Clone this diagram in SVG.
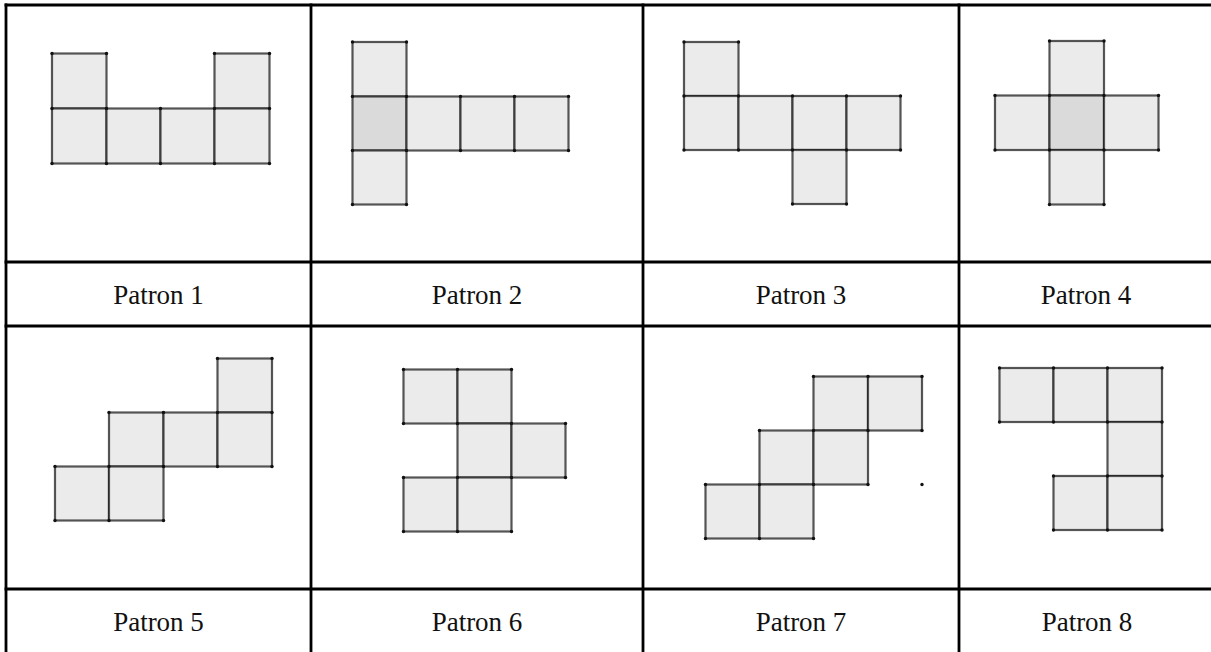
<svg xmlns="http://www.w3.org/2000/svg" xmlns:xlink="http://www.w3.org/1999/xlink" width="1211" height="652" viewBox="0 0 1211 652">
<style>
.sq{fill:#ebebeb;stroke:#1e1e1e;stroke-opacity:0.75;stroke-width:2.2}
.dk{fill:#dadada}
.grid{stroke:#000;stroke-width:2.8;fill:none}
.lbl{font-family:"Liberation Serif","Times New Roman",serif;font-size:27px;fill:#111;text-anchor:middle}
</style>
<defs><circle id="d" r="1.7" fill="#111"/></defs>
<rect width="1211" height="652" fill="#fff"/>
<g id="table" class="grid">
<line x1="4.6" y1="5" x2="1211" y2="5"/>
<line x1="4.6" y1="262" x2="1211" y2="262"/>
<line x1="4.6" y1="326" x2="1211" y2="326"/>
<line x1="4.6" y1="589" x2="1211" y2="589"/>
<line x1="6" y1="3.6" x2="6" y2="652"/>
<line x1="311" y1="3.6" x2="311" y2="652"/>
<line x1="643" y1="3.6" x2="643" y2="652"/>
<line x1="959" y1="3.6" x2="959" y2="652"/>
</g>
<g id="patron1">
<rect class="sq" x="52" y="53.5" width="54.5" height="55"/>
<rect class="sq" x="214.5" y="53.5" width="55" height="55"/>
<rect class="sq" x="52" y="108.5" width="54.5" height="55"/>
<rect class="sq" x="106.5" y="108.5" width="54" height="55"/>
<rect class="sq" x="160.5" y="108.5" width="54" height="55"/>
<rect class="sq" x="214.5" y="108.5" width="55" height="55"/>
<use xlink:href="#d" x="52" y="53.5"/><use xlink:href="#d" x="106.5" y="53.5"/><use xlink:href="#d" x="214.5" y="53.5"/><use xlink:href="#d" x="269.5" y="53.5"/>
<use xlink:href="#d" x="52" y="108.5"/><use xlink:href="#d" x="106.5" y="108.5"/><use xlink:href="#d" x="160.5" y="108.5"/><use xlink:href="#d" x="214.5" y="108.5"/><use xlink:href="#d" x="269.5" y="108.5"/>
<use xlink:href="#d" x="52" y="163.5"/><use xlink:href="#d" x="106.5" y="163.5"/><use xlink:href="#d" x="160.5" y="163.5"/><use xlink:href="#d" x="214.5" y="163.5"/><use xlink:href="#d" x="269.5" y="163.5"/>
<text class="lbl" x="158.5" y="304">Patron 1</text>
</g>
<g id="patron2">
<rect class="sq" x="352.5" y="42" width="54" height="54.5"/>
<rect class="sq dk" x="352.5" y="96.5" width="54" height="54"/>
<rect class="sq" x="406.5" y="96.5" width="54" height="54"/>
<rect class="sq" x="460.5" y="96.5" width="54" height="54"/>
<rect class="sq" x="514.5" y="96.5" width="54" height="54"/>
<rect class="sq" x="352.5" y="150.5" width="54" height="54"/>
<use xlink:href="#d" x="352.5" y="42"/><use xlink:href="#d" x="406.5" y="42"/>
<use xlink:href="#d" x="352.5" y="96.5"/><use xlink:href="#d" x="406.5" y="96.5"/><use xlink:href="#d" x="460.5" y="96.5"/><use xlink:href="#d" x="514.5" y="96.5"/><use xlink:href="#d" x="568.5" y="96.5"/>
<use xlink:href="#d" x="352.5" y="150.5"/><use xlink:href="#d" x="406.5" y="150.5"/><use xlink:href="#d" x="460.5" y="150.5"/><use xlink:href="#d" x="514.5" y="150.5"/><use xlink:href="#d" x="568.5" y="150.5"/>
<use xlink:href="#d" x="352.5" y="204.5"/><use xlink:href="#d" x="406.5" y="204.5"/>
<text class="lbl" x="477" y="304">Patron 2</text>
</g>
<g id="patron3">
<rect class="sq" x="684" y="42" width="54.5" height="54"/>
<rect class="sq" x="684" y="96" width="54.5" height="54"/>
<rect class="sq" x="738.5" y="96" width="54" height="54"/>
<rect class="sq" x="792.5" y="96" width="54" height="54"/>
<rect class="sq" x="846.5" y="96" width="54" height="54"/>
<rect class="sq" x="792.5" y="150" width="54" height="54"/>
<use xlink:href="#d" x="684" y="42"/><use xlink:href="#d" x="738.5" y="42"/>
<use xlink:href="#d" x="684" y="96"/><use xlink:href="#d" x="738.5" y="96"/><use xlink:href="#d" x="792.5" y="96"/><use xlink:href="#d" x="846.5" y="96"/><use xlink:href="#d" x="900.5" y="96"/>
<use xlink:href="#d" x="684" y="150"/><use xlink:href="#d" x="738.5" y="150"/><use xlink:href="#d" x="792.5" y="150"/><use xlink:href="#d" x="846.5" y="150"/><use xlink:href="#d" x="900.5" y="150"/>
<use xlink:href="#d" x="792.5" y="204"/><use xlink:href="#d" x="846.5" y="204"/>
<text class="lbl" x="801" y="304">Patron 3</text>
</g>
<g id="patron4">
<rect class="sq" x="1049.5" y="41" width="54.5" height="54.5"/>
<rect class="sq" x="995" y="95.5" width="54.5" height="54.5"/>
<rect class="sq dk" x="1049.5" y="95.5" width="54.5" height="54.5"/>
<rect class="sq" x="1104" y="95.5" width="54.5" height="54.5"/>
<rect class="sq" x="1049.5" y="150" width="54.5" height="54.5"/>
<use xlink:href="#d" x="1049.5" y="41"/><use xlink:href="#d" x="1104" y="41"/>
<use xlink:href="#d" x="995" y="95.5"/><use xlink:href="#d" x="1049.5" y="95.5"/><use xlink:href="#d" x="1104" y="95.5"/><use xlink:href="#d" x="1158.5" y="95.5"/>
<use xlink:href="#d" x="995" y="150"/><use xlink:href="#d" x="1049.5" y="150"/><use xlink:href="#d" x="1104" y="150"/><use xlink:href="#d" x="1158.5" y="150"/>
<use xlink:href="#d" x="1049.5" y="204.5"/><use xlink:href="#d" x="1104" y="204.5"/>
<text class="lbl" x="1086" y="304">Patron 4</text>
</g>
<g id="patron5">
<rect class="sq" x="217.5" y="358.5" width="54.5" height="54"/>
<rect class="sq" x="109" y="412.5" width="54.5" height="54"/>
<rect class="sq" x="163.5" y="412.5" width="54" height="54"/>
<rect class="sq" x="217.5" y="412.5" width="54.5" height="54"/>
<rect class="sq" x="55" y="466.5" width="54" height="54"/>
<rect class="sq" x="109" y="466.5" width="54.5" height="54"/>
<use xlink:href="#d" x="217.5" y="358.5"/><use xlink:href="#d" x="272" y="358.5"/>
<use xlink:href="#d" x="109" y="412.5"/><use xlink:href="#d" x="163.5" y="412.5"/><use xlink:href="#d" x="217.5" y="412.5"/><use xlink:href="#d" x="272" y="412.5"/>
<use xlink:href="#d" x="55" y="466.5"/><use xlink:href="#d" x="109" y="466.5"/><use xlink:href="#d" x="163.5" y="466.5"/><use xlink:href="#d" x="217.5" y="466.5"/><use xlink:href="#d" x="272" y="466.5"/>
<use xlink:href="#d" x="55" y="520.5"/><use xlink:href="#d" x="109" y="520.5"/><use xlink:href="#d" x="163.5" y="520.5"/>
<text class="lbl" x="158.5" y="631">Patron 5</text>
</g>
<g id="patron6">
<rect class="sq" x="403.5" y="369.5" width="54" height="54"/>
<rect class="sq" x="457.5" y="369.5" width="54" height="54"/>
<rect class="sq" x="457.5" y="423.5" width="54" height="54"/>
<rect class="sq" x="511.5" y="423.5" width="54" height="54"/>
<rect class="sq" x="403.5" y="477.5" width="54" height="54"/>
<rect class="sq" x="457.5" y="477.5" width="54" height="54"/>
<use xlink:href="#d" x="403.5" y="369.5"/><use xlink:href="#d" x="457.5" y="369.5"/><use xlink:href="#d" x="511.5" y="369.5"/>
<use xlink:href="#d" x="403.5" y="423.5"/><use xlink:href="#d" x="457.5" y="423.5"/><use xlink:href="#d" x="511.5" y="423.5"/><use xlink:href="#d" x="565.5" y="423.5"/>
<use xlink:href="#d" x="403.5" y="477.5"/><use xlink:href="#d" x="457.5" y="477.5"/><use xlink:href="#d" x="511.5" y="477.5"/><use xlink:href="#d" x="565.5" y="477.5"/>
<use xlink:href="#d" x="403.5" y="531.5"/><use xlink:href="#d" x="457.5" y="531.5"/><use xlink:href="#d" x="511.5" y="531.5"/>
<text class="lbl" x="477" y="631">Patron 6</text>
</g>
<g id="patron7">
<rect class="sq" x="813.5" y="376.5" width="54.5" height="54"/>
<rect class="sq" x="868" y="376.5" width="54" height="54"/>
<rect class="sq" x="759.5" y="430.5" width="54" height="54"/>
<rect class="sq" x="813.5" y="430.5" width="54.5" height="54"/>
<rect class="sq" x="705.5" y="484.5" width="54" height="54"/>
<rect class="sq" x="759.5" y="484.5" width="54" height="54"/>
<use xlink:href="#d" x="813.5" y="376.5"/><use xlink:href="#d" x="868" y="376.5"/><use xlink:href="#d" x="922" y="376.5"/>
<use xlink:href="#d" x="759.5" y="430.5"/><use xlink:href="#d" x="813.5" y="430.5"/><use xlink:href="#d" x="868" y="430.5"/><use xlink:href="#d" x="922" y="430.5"/>
<use xlink:href="#d" x="705.5" y="484.5"/><use xlink:href="#d" x="759.5" y="484.5"/><use xlink:href="#d" x="813.5" y="484.5"/><use xlink:href="#d" x="868" y="484.5"/><use xlink:href="#d" x="922" y="484.5"/>
<use xlink:href="#d" x="705.5" y="538.5"/><use xlink:href="#d" x="759.5" y="538.5"/><use xlink:href="#d" x="813.5" y="538.5"/>
<text class="lbl" x="801" y="631">Patron 7</text>
</g>
<g id="patron8">
<rect class="sq" x="999.5" y="368" width="54" height="54"/>
<rect class="sq" x="1053.5" y="368" width="54" height="54"/>
<rect class="sq" x="1107.5" y="368" width="54.5" height="54"/>
<rect class="sq" x="1107.5" y="422" width="54.5" height="54"/>
<rect class="sq" x="1053.5" y="476" width="54" height="54"/>
<rect class="sq" x="1107.5" y="476" width="54.5" height="54"/>
<use xlink:href="#d" x="999.5" y="368"/><use xlink:href="#d" x="1053.5" y="368"/><use xlink:href="#d" x="1107.5" y="368"/><use xlink:href="#d" x="1162" y="368"/>
<use xlink:href="#d" x="999.5" y="422"/><use xlink:href="#d" x="1053.5" y="422"/><use xlink:href="#d" x="1107.5" y="422"/><use xlink:href="#d" x="1162" y="422"/>
<use xlink:href="#d" x="1053.5" y="476"/><use xlink:href="#d" x="1107.5" y="476"/><use xlink:href="#d" x="1162" y="476"/>
<use xlink:href="#d" x="1053.5" y="530"/><use xlink:href="#d" x="1107.5" y="530"/><use xlink:href="#d" x="1162" y="530"/>
<text class="lbl" x="1087" y="631">Patron 8</text>
</g>
</svg>
